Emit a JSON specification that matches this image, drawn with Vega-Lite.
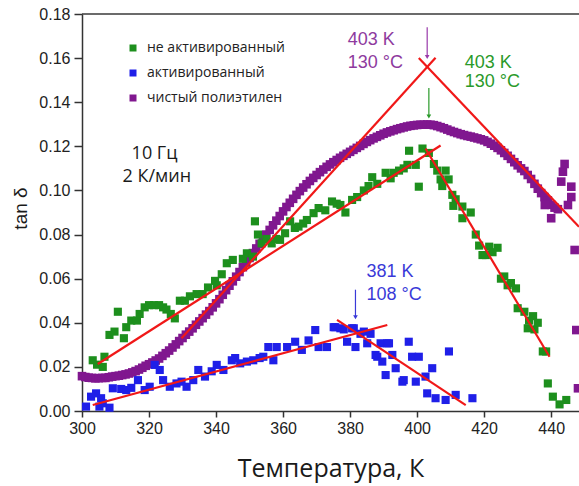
{
  "$schema": "https://vega.github.io/schema/vega-lite/v6.json",
  "width": 497,
  "height": 397,
  "autosize": {"type": "none"},
  "padding": {"left": 82, "top": 14, "right": 0, "bottom": 75},
  "background": "white",
  "config": {"view": {"stroke": null}},
  "datasets": {
    "purple": [
      {"T":300,"v":0.0158},{"T":301,"v":0.0154},{"T":302,"v":0.0151},{"T":303,"v":0.0150},{"T":304,"v":0.0148},{"T":305,"v":0.0149},{"T":306,"v":0.0150},{"T":307,"v":0.0150},{"T":308,"v":0.0153},{"T":309,"v":0.0156},
      {"T":310,"v":0.0158},{"T":311,"v":0.0160},{"T":312,"v":0.0163},{"T":313,"v":0.0166},{"T":314,"v":0.0170},{"T":315,"v":0.0175},{"T":316,"v":0.0181},{"T":317,"v":0.0188},{"T":318,"v":0.0196},{"T":319,"v":0.0205},
      {"T":320,"v":0.0212},{"T":321,"v":0.0220},{"T":322,"v":0.0229},{"T":323,"v":0.0238},{"T":324,"v":0.0250},{"T":325,"v":0.0262},{"T":326,"v":0.0274},{"T":327,"v":0.0288},{"T":328,"v":0.0302},{"T":329,"v":0.0317},
      {"T":330,"v":0.0331},{"T":331,"v":0.0346},{"T":332,"v":0.0360},{"T":333,"v":0.0375},{"T":334,"v":0.0391},{"T":335,"v":0.0406},{"T":336,"v":0.0421},{"T":337,"v":0.0437},{"T":338,"v":0.0453},{"T":339,"v":0.0470},
      {"T":340,"v":0.0488},{"T":341,"v":0.0507},{"T":342,"v":0.0527},{"T":343,"v":0.0548},{"T":344,"v":0.0568},{"T":345,"v":0.0588},{"T":346,"v":0.0609},{"T":347,"v":0.0630},{"T":348,"v":0.0652},{"T":349,"v":0.0673},
      {"T":350,"v":0.0694},{"T":351,"v":0.0716},{"T":352,"v":0.0737},{"T":353,"v":0.0758},{"T":354,"v":0.0779},{"T":355,"v":0.0800},{"T":356,"v":0.0821},{"T":357,"v":0.0842},{"T":358,"v":0.0863},{"T":359,"v":0.0884},
      {"T":360,"v":0.0905},{"T":361,"v":0.0925},{"T":362,"v":0.0944},{"T":363,"v":0.0962},{"T":364,"v":0.0980},{"T":365,"v":0.0997},{"T":366,"v":0.1013},{"T":367,"v":0.1028},{"T":368,"v":0.1043},{"T":369,"v":0.1057},
      {"T":370,"v":0.1070},{"T":371,"v":0.1083},{"T":372,"v":0.1095},{"T":373,"v":0.1107},{"T":374,"v":0.1118},{"T":375,"v":0.1128},{"T":376,"v":0.1138},{"T":377,"v":0.1148},{"T":378,"v":0.1157},{"T":379,"v":0.1166},
      {"T":380,"v":0.1175},{"T":381,"v":0.1184},{"T":382,"v":0.1193},{"T":383,"v":0.1202},{"T":384,"v":0.1211},{"T":385,"v":0.1220},{"T":386,"v":0.1228},{"T":387,"v":0.1236},{"T":388,"v":0.1243},{"T":389,"v":0.1250},
      {"T":390,"v":0.1257},{"T":391,"v":0.1263},{"T":392,"v":0.1268},{"T":393,"v":0.1273},{"T":394,"v":0.1278},{"T":395,"v":0.1282},{"T":396,"v":0.1286},{"T":397,"v":0.1290},{"T":398,"v":0.1293},{"T":399,"v":0.1295},
      {"T":400,"v":0.1297},{"T":401,"v":0.1298},{"T":402,"v":0.1298},{"T":403,"v":0.1299},{"T":404,"v":0.1298},{"T":405,"v":0.1296},{"T":406,"v":0.1292},{"T":407,"v":0.1287},{"T":408,"v":0.1282},{"T":409,"v":0.1276},
      {"T":410,"v":0.1270},{"T":411,"v":0.1265},{"T":412,"v":0.1260},{"T":413,"v":0.1255},{"T":414,"v":0.1251},{"T":415,"v":0.1247},{"T":416,"v":0.1244},{"T":417,"v":0.1240},{"T":418,"v":0.1236},{"T":419,"v":0.1232},
      {"T":420,"v":0.1227},{"T":421,"v":0.1220},{"T":422,"v":0.1212},{"T":423,"v":0.1203},{"T":424,"v":0.1193},{"T":425,"v":0.1182},{"T":426,"v":0.1170},{"T":427,"v":0.1157},{"T":428,"v":0.1143},{"T":429,"v":0.1128},
      {"T":430,"v":0.1114},{"T":431,"v":0.1100},{"T":432,"v":0.1088},{"T":433,"v":0.1070},{"T":434,"v":0.1052},{"T":435,"v":0.1030},{"T":436,"v":0.1008},{"T":437,"v":0.0988},{"T":438,"v":0.0970},{"T":439,"v":0.0955},
      {"T":440,"v":0.0935},{"T":441,"v":0.0922},{"T":442,"v":0.0915},{"T":438.1,"v":0.0934},{"T":440,"v":0.0874},{"T":443,"v":0.104},{"T":443.5,"v":0.1085},{"T":444,"v":0.112},{"T":445,"v":0.0934},
      {"T":446,"v":0.097},{"T":446,"v":0.1017},{"T":447,"v":0.073},{"T":447.5,"v":0.0367},{"T":448,"v":0.0103}
    ],
    "green": [
      {"T":303.2,"v":0.023},{"T":304.5,"v":0.021},{"T":306.2,"v":0.020},{"T":306.7,"v":0.0246},{"T":308.2,"v":0.0345},{"T":309.7,"v":0.036},{"T":310.7,"v":0.045},{"T":312.5,"v":0.033},{"T":313.2,"v":0.038},{"T":314.7,"v":0.041},
      {"T":316.4,"v":0.041},{"T":317.2,"v":0.044},{"T":318.7,"v":0.047},{"T":320.0,"v":0.048},{"T":321.5,"v":0.048},{"T":323.0,"v":0.048},{"T":324.2,"v":0.047},{"T":325.2,"v":0.046},{"T":326.5,"v":0.044},{"T":327.7,"v":0.042},
      {"T":329.2,"v":0.050},{"T":330.7,"v":0.050},{"T":332.2,"v":0.052},{"T":334.2,"v":0.053},{"T":336.0,"v":0.053},{"T":337.6,"v":0.056},{"T":339.7,"v":0.059},{"T":340.2,"v":0.057},{"T":341.7,"v":0.062},{"T":343.2,"v":0.067},
      {"T":345.0,"v":0.0685},{"T":348.0,"v":0.069},{"T":349.2,"v":0.0715},{"T":351.0,"v":0.070},{"T":351.6,"v":0.086},{"T":352.5,"v":0.080},{"T":353.6,"v":0.076},{"T":355.0,"v":0.078},{"T":356.6,"v":0.076},{"T":358.0,"v":0.078},
      {"T":359.1,"v":0.0776},{"T":360.6,"v":0.0806},{"T":362.1,"v":0.086},{"T":363.5,"v":0.083},{"T":364.6,"v":0.0836},{"T":366.0,"v":0.085},{"T":367.1,"v":0.0866},{"T":369.1,"v":0.0897},{"T":370.6,"v":0.092},{"T":372.6,"v":0.091},
      {"T":374.6,"v":0.095},{"T":376.0,"v":0.094},{"T":377.1,"v":0.0934},{"T":378.6,"v":0.090},{"T":380.6,"v":0.0957},{"T":382.1,"v":0.097},{"T":384.1,"v":0.100},{"T":385.5,"v":0.102},{"T":386.6,"v":0.106},{"T":388.1,"v":0.103},
      {"T":390.6,"v":0.108},{"T":392.1,"v":0.1055},{"T":393.0,"v":0.108},{"T":394.6,"v":0.109},{"T":396.0,"v":0.110},{"T":397.1,"v":0.1116},{"T":397.6,"v":0.118},{"T":399.6,"v":0.1116},{"T":400.5,"v":0.1017},{"T":401.6,"v":0.119},
      {"T":403.5,"v":0.117},{"T":405.0,"v":0.112},{"T":406.0,"v":0.109},{"T":407.0,"v":0.105},{"T":407.5,"v":0.102},{"T":408.5,"v":0.109},{"T":409.4,"v":0.105},{"T":410.5,"v":0.098},{"T":411.5,"v":0.096},{"T":410.8,"v":0.093},
      {"T":413.5,"v":0.0927},{"T":413.5,"v":0.0874},{"T":416.0,"v":0.090},{"T":417.5,"v":0.080},{"T":418.5,"v":0.075},{"T":419.5,"v":0.0707},{"T":420.5,"v":0.0707},{"T":421.5,"v":0.0745},{"T":422.5,"v":0.072},{"T":424.0,"v":0.074},
      {"T":425.0,"v":0.060},{"T":426.0,"v":0.061},{"T":427.0,"v":0.057},{"T":428.0,"v":0.058},{"T":429.5,"v":0.0556},{"T":430.0,"v":0.0466},{"T":432.0,"v":0.045},{"T":433.0,"v":0.0375},{"T":433.4,"v":0.041},{"T":434.6,"v":0.043},
      {"T":435.0,"v":0.037},{"T":436.0,"v":0.040},{"T":437.5,"v":0.027},{"T":438.5,"v":0.027},{"T":439.0,"v":0.0125},{"T":440.5,"v":0.0065},{"T":442.5,"v":0.003},{"T":444.5,"v":0.005}
    ],
    "blue": [
      {"T":301.2,"v":0.002},{"T":302.7,"v":0.0065},{"T":304.2,"v":0.008},{"T":305.2,"v":0.002},{"T":305.7,"v":0.0058},{"T":306.2,"v":0.0035},{"T":308.2,"v":0.0015},{"T":309.2,"v":0.0103},{"T":311.7,"v":0.010},{"T":313.2,"v":0.0095},
      {"T":314.7,"v":0.0105},{"T":316.7,"v":0.014},{"T":318.7,"v":0.0095},{"T":320.2,"v":0.011},{"T":321.7,"v":0.0209},{"T":323.2,"v":0.0186},{"T":324.2,"v":0.014},{"T":326.2,"v":0.011},{"T":328.2,"v":0.0125},{"T":329.7,"v":0.0133},
      {"T":331.2,"v":0.011},{"T":333.2,"v":0.014},{"T":334.7,"v":0.0186},{"T":336.7,"v":0.0156},{"T":338.7,"v":0.018},{"T":340.2,"v":0.0209},{"T":342.2,"v":0.0186},{"T":344.7,"v":0.023},{"T":345.7,"v":0.024},{"T":347.2,"v":0.0216},
      {"T":349.2,"v":0.0224},{"T":351.1,"v":0.023},{"T":353.0,"v":0.024},{"T":354.1,"v":0.0246},{"T":355.6,"v":0.029},{"T":357.1,"v":0.023},{"T":358.1,"v":0.029},{"T":361.2,"v":0.029},{"T":363.6,"v":0.0314},{"T":365.6,"v":0.0277},
      {"T":367.6,"v":0.032},{"T":369.6,"v":0.0367},{"T":370.6,"v":0.029},{"T":373.1,"v":0.029},{"T":375.1,"v":0.038},{"T":375.6,"v":0.038},{"T":377.1,"v":0.0375},{"T":378.1,"v":0.037},{"T":379.1,"v":0.0314},{"T":380.6,"v":0.0375},
      {"T":381.1,"v":0.0375},{"T":381.6,"v":0.029},{"T":383.1,"v":0.035},{"T":384.1,"v":0.036},{"T":385.1,"v":0.0307},{"T":386.1,"v":0.035},{"T":387.6,"v":0.0254},{"T":388.1,"v":0.0246},{"T":389.1,"v":0.0307},{"T":389.6,"v":0.0224},
      {"T":390.6,"v":0.0163},{"T":391.1,"v":0.0307},{"T":391.6,"v":0.0307},{"T":392.6,"v":0.0254},{"T":393.6,"v":0.0194},{"T":395.6,"v":0.0133},{"T":396.0,"v":0.014},{"T":397.5,"v":0.0314},{"T":398.5,"v":0.0246},{"T":399.6,"v":0.0133},
      {"T":400.5,"v":0.0246},{"T":402.5,"v":0.0156},{"T":403.0,"v":0.008},{"T":404.5,"v":0.0194},{"T":405.5,"v":0.0058},{"T":408.5,"v":0.005},{"T":409.5,"v":0.027},{"T":411.5,"v":0.0073},{"T":416.5,"v":0.0058}
    ],
    "fits": [
      {"seg":"p1","T":329.7,"v":0.033},{"seg":"p1","T":405.5,"v":0.1602},
      {"seg":"p2","T":400.5,"v":0.160},{"seg":"p2","T":448.3,"v":0.0835},
      {"seg":"g1","T":304.7,"v":0.0213},{"seg":"g1","T":407,"v":0.1204},
      {"seg":"g2","T":402.5,"v":0.119},{"seg":"g2","T":439.5,"v":0.0246},
      {"seg":"b1","T":303.2,"v":0.0027},{"seg":"b1","T":391.1,"v":0.039},
      {"seg":"b2","T":376.1,"v":0.0413},{"seg":"b2","T":414.5,"v":0.0027}
    ]
  },
  "layer": [
    {
      "data": {"values": [{"top": 0.18}]},
      "mark": {"type": "rule", "color": "#3a3a3a", "strokeWidth": 1.5},
      "encoding": {"y": {"field": "top", "type": "quantitative"}}
    },
    {
      "data": {"name": "purple"},
      "mark": {"type": "point", "shape": "square", "filled": true, "size": 74, "opacity": 1, "strokeWidth": 0},
      "encoding": {
        "x": {"field": "T", "type": "quantitative", "scale": {"domain": [300, 448.3], "nice": false, "zero": false},
          "axis": {
            "title": "Температура, К", "titleFont": "Open Sans", "titleFontSize": 25, "titleFontWeight": "normal", "titleColor": "#1a1a1a", "titlePadding": 20,
            "values": [300,310,320,330,340,350,360,370,380,390,400,410,420,430,440],
            "labelExpr": "datum.value % 20 == 0 ? datum.label : ''",
            "labelFont": "Liberation Sans", "labelFontSize": 16, "labelColor": "#222", "labelPadding": 3, "labelOverlap": false, "labelFlush": false,
            "tickSize": {"condition": {"test": "datum.value % 20 == 0", "value": 6}, "value": 3},
            "tickColor": "#333", "tickWidth": 1.5, "domainColor": "#333", "domainWidth": 1.5, "grid": false
          }},
        "y": {"field": "v", "type": "quantitative", "scale": {"domain": [0, 0.18], "nice": false},
          "axis": {
            "title": "tan δ", "titleFont": "Liberation Sans", "titleFontSize": 19, "titleFontWeight": "normal", "titleColor": "#1a1a1a", "titlePadding": 8, "titleY": 194,
            "values": [0,0.01,0.02,0.03,0.04,0.05,0.06,0.07,0.08,0.09,0.1,0.11,0.12,0.13,0.14,0.15,0.16,0.17,0.18],
            "labelExpr": "round(datum.value*100) % 2 == 0 ? format(datum.value, '.2f') : ''",
            "labelFont": "Liberation Sans", "labelFontSize": 16, "labelColor": "#222", "labelPadding": 4, "labelOverlap": false, "labelFlush": false,
            "tickSize": {"condition": {"test": "round(datum.value*100) % 2 == 0", "value": 8}, "value": 3},
            "tickColor": "#333", "tickWidth": 1.5, "domainColor": "#333", "domainWidth": 1.5, "grid": false
          }},
        "color": {"datum": "чистый полиэтилен",
          "scale": {"domain": ["не активированный", "активированный", "чистый полиэтилен"], "range": ["#1d8f1d", "#1f1fe8", "#80178f"]},
          "legend": {"orient": "none", "legendX": 44, "legendY": 27, "title": null, "symbolType": "square", "symbolSize": 49,
            "labelFont": "Open Sans", "labelFontSize": 14, "labelColor": "#222", "rowPadding": 11, "labelOffset": 7, "symbolStrokeWidth": 0}}
      }
    },
    {
      "data": {"name": "green"},
      "mark": {"type": "point", "shape": "square", "filled": true, "size": 66, "opacity": 1, "strokeWidth": 0},
      "encoding": {
        "x": {"field": "T", "type": "quantitative"},
        "y": {"field": "v", "type": "quantitative"},
        "color": {"datum": "не активированный"}
      }
    },
    {
      "data": {"name": "blue"},
      "mark": {"type": "point", "shape": "square", "filled": true, "size": 66, "opacity": 1, "strokeWidth": 0},
      "encoding": {
        "x": {"field": "T", "type": "quantitative"},
        "y": {"field": "v", "type": "quantitative"},
        "color": {"datum": "активированный"}
      }
    },
    {
      "data": {"name": "fits"},
      "mark": {"type": "line", "color": "#f01818", "strokeWidth": 2.2, "clip": true},
      "encoding": {
        "x": {"field": "T", "type": "quantitative"},
        "y": {"field": "v", "type": "quantitative"},
        "detail": {"field": "seg", "type": "nominal"}
      }
    },
    {
      "data": {"values": [{"T": 403, "v1": 0.174, "v2": 0.1605}]},
      "layer": [
        {"mark": {"type": "rule", "color": "#9a3aaa", "strokeWidth": 1.2}, "encoding": {"x": {"field": "T", "type": "quantitative"}, "y": {"field": "v1", "type": "quantitative"}, "y2": {"field": "v2"}}},
        {"mark": {"type": "point", "shape": "triangle-down", "filled": true, "size": 22, "color": "#9a3aaa", "opacity": 1}, "encoding": {"x": {"field": "T", "type": "quantitative"}, "y": {"field": "v2", "type": "quantitative"}}}
      ]
    },
    {
      "data": {"values": [{"T": 403.5, "v1": 0.1465, "v2": 0.1335}]},
      "layer": [
        {"mark": {"type": "rule", "color": "#2a9a2a", "strokeWidth": 1.2}, "encoding": {"x": {"field": "T", "type": "quantitative"}, "y": {"field": "v1", "type": "quantitative"}, "y2": {"field": "v2"}}},
        {"mark": {"type": "point", "shape": "triangle-down", "filled": true, "size": 22, "color": "#2a9a2a", "opacity": 1}, "encoding": {"x": {"field": "T", "type": "quantitative"}, "y": {"field": "v2", "type": "quantitative"}}}
      ]
    },
    {
      "data": {"values": [{"T": 381.6, "v1": 0.055, "v2": 0.0425}]},
      "layer": [
        {"mark": {"type": "rule", "color": "#3a3ad8", "strokeWidth": 1.2}, "encoding": {"x": {"field": "T", "type": "quantitative"}, "y": {"field": "v1", "type": "quantitative"}, "y2": {"field": "v2"}}},
        {"mark": {"type": "point", "shape": "triangle-down", "filled": true, "size": 22, "color": "#3a3ad8", "opacity": 1}, "encoding": {"x": {"field": "T", "type": "quantitative"}, "y": {"field": "v2", "type": "quantitative"}}}
      ]
    },
    {
      "data": {"values": [{"T": 379.3, "v": 0.1683, "t": "403 K"}, {"T": 379.3, "v": 0.158, "t": "130 °C"}]},
      "mark": {"type": "text", "align": "left", "baseline": "middle", "font": "Liberation Sans", "fontSize": 18, "color": "#8e3a9e"},
      "encoding": {"x": {"field": "T", "type": "quantitative"}, "y": {"field": "v", "type": "quantitative"}, "text": {"field": "t"}}
    },
    {
      "data": {"values": [{"T": 414.2, "v": 0.1578, "t": "403 K"}, {"T": 414.2, "v": 0.149, "t": "130 °C"}]},
      "mark": {"type": "text", "align": "left", "baseline": "middle", "font": "Liberation Sans", "fontSize": 18, "color": "#2a9a2a"},
      "encoding": {"x": {"field": "T", "type": "quantitative"}, "y": {"field": "v", "type": "quantitative"}, "text": {"field": "t"}}
    },
    {
      "data": {"values": [{"T": 384.9, "v": 0.0628, "t": "381 K"}, {"T": 384.9, "v": 0.0528, "t": "108 °C"}]},
      "mark": {"type": "text", "align": "left", "baseline": "middle", "font": "Liberation Sans", "fontSize": 18, "color": "#3a3ad8"},
      "encoding": {"x": {"field": "T", "type": "quantitative"}, "y": {"field": "v", "type": "quantitative"}, "text": {"field": "t"}}
    },
    {
      "data": {"values": [{"T": 314.8, "v": 0.1167, "t": "10 Гц"}, {"T": 312.1, "v": 0.1062, "t": "2 К/мин"}]},
      "mark": {"type": "text", "align": "left", "baseline": "middle", "font": "Open Sans", "fontSize": 18, "color": "#1a1a1a"},
      "encoding": {"x": {"field": "T", "type": "quantitative"}, "y": {"field": "v", "type": "quantitative"}, "text": {"field": "t"}}
    }
  ]
}
